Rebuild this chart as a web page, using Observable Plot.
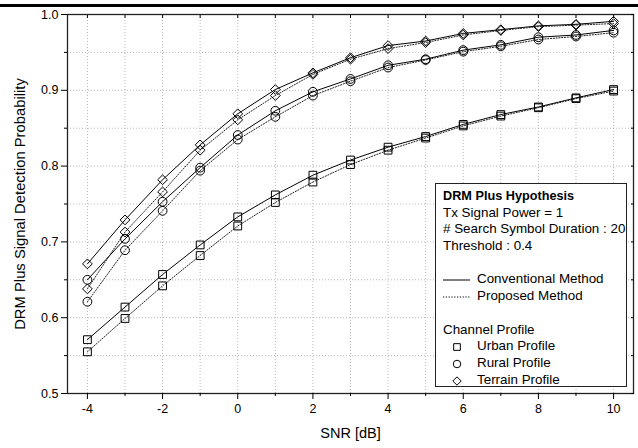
<!DOCTYPE html>
<html>
<head>
<meta charset="utf-8">
<script src="https://cdn.jsdelivr.net/npm/d3@7"></script>
<script src="https://cdn.jsdelivr.net/npm/@observablehq/plot@0.6"></script>
<style>
  body { margin: 0; background: white; }
  #wrap { position: relative; width: 638px; height: 448px; overflow: hidden; font-family: 'Liberation Sans', Arial, sans-serif; }
  #topbar { position: absolute; left: 0; top: 4px; width: 638px; height: 3px; background: #000; }
  #legend { position: absolute; left: 435px; top: 183px; width: 192px; height: 204px; border: 1.3px solid #222; background: white; box-sizing: border-box; padding: 4px 0 0 7px; font-size: 13.4px; line-height: 16.7px; color: #000; }
  #legend .row { position: relative; height: 16.7px; white-space: nowrap; }
  #legend .row svg { position: absolute; left: 0; top: 0; }
  #legend .row .lbl { position: absolute; left: 34px; top: 0; }
  #legend .row .plain { position: absolute; left: 0; top: 0; }
  #legend .row b { font-size: 12.7px; }
</style>
</head>
<body>
<div id="wrap"><div id="topbar"></div></div>
<script>
// ---- data ----
const snr = [-4, -3, -2, -1, 0, 1, 2, 3, 4, 5, 6, 7, 8, 9, 10];
const profiles = ["Urban Profile", "Rural Profile", "Terrain Profile"];
const methods = ["Conventional Method", "Proposed Method"];
const urbanConv   = [0.571, 0.614, 0.657, 0.696, 0.733, 0.762, 0.788, 0.808, 0.825, 0.839, 0.855, 0.868, 0.878, 0.890, 0.901];
const urbanProp   = [0.555, 0.599, 0.642, 0.682, 0.721, 0.752, 0.779, 0.802, 0.821, 0.837, 0.853, 0.866, 0.877, 0.889, 0.899];
const ruralConv   = [0.650, 0.704, 0.753, 0.798, 0.841, 0.873, 0.898, 0.915, 0.933, 0.941, 0.953, 0.960, 0.970, 0.973, 0.979];
const ruralProp   = [0.621, 0.689, 0.741, 0.794, 0.835, 0.865, 0.893, 0.912, 0.930, 0.940, 0.951, 0.958, 0.967, 0.971, 0.976];
const terrainConv = [0.671, 0.729, 0.782, 0.828, 0.869, 0.901, 0.923, 0.943, 0.959, 0.965, 0.975, 0.980, 0.985, 0.987, 0.991];
const terrainProp = [0.638, 0.713, 0.766, 0.821, 0.861, 0.893, 0.921, 0.941, 0.955, 0.963, 0.973, 0.979, 0.984, 0.986, 0.988];
const xMajorTicks = [-4, -2, 0, 2, 4, 6, 8, 10];
const xMinorTicks = [-3, -1, 1, 3, 5, 7, 9];
const yMajorTicks = [0.5, 0.6, 0.7, 0.8, 0.9, 1.0];
const yMinorTicks = [0.55, 0.65, 0.75, 0.85, 0.95];
const xLabel = "SNR [dB]";
const yLabel = "DRM Plus Signal Detection Probability";
const legendTitle = "DRM Plus Hypothesis";
const legendInfo = ["Tx Signal Power = 1", "# Search Symbol Duration : 20", "Threshold : 0.4"];
const legendProfileTitle = "Channel Profile";
const symbols = ["square", "circle", "diamond2"];

// ---- table ----
const seriesValues = [[urbanConv, urbanProp], [ruralConv, ruralProp], [terrainConv, terrainProp]];
const rows = [];
profiles.forEach((p, i) => methods.forEach((m, j) => snr.forEach((x, k) =>
  rows.push({snr: x, prob: seriesValues[i][j][k], profile: p, method: m}))));
const conv = rows.filter(d => d.method === methods[0]);
const prop = rows.filter(d => d.method === methods[1]);
const allX = xMajorTicks.concat(xMinorTicks).sort((a, b) => a - b);
const allY = yMajorTicks.concat(yMinorTicks).sort((a, b) => a - b);

const chart = Plot.plot({
  width: 638,
  height: 448,
  marginTop: 14,
  marginBottom: 55,
  marginLeft: 67,
  marginRight: 5,
  style: {fontFamily: "'Liberation Sans', Arial, sans-serif", fontSize: "12.5px", color: "#000", background: "transparent"},
  x: {domain: [-4.53, 10.53]},
  y: {domain: [0.5, 1.0]},
  symbol: {domain: profiles, range: symbols},
  marks: [
    Plot.gridX(allX, {stroke: "#b8b8b8", strokeOpacity: 1, strokeDasharray: "1,2"}),
    Plot.gridY(allY.filter(v => v > 0.5 && v < 1), {stroke: "#b8b8b8", strokeOpacity: 1, strokeDasharray: "1,2"}),
    Plot.line(conv, {x: "snr", y: "prob", z: "profile", stroke: "#000", strokeWidth: 1}),
    Plot.line(prop, {x: "snr", y: "prob", z: "profile", stroke: "#222", strokeWidth: 1, strokeDasharray: "1.2,1.6"}),
    Plot.dot(rows, {x: "snr", y: "prob", symbol: "profile", r: 4.4, stroke: "#000", strokeWidth: 1, fill: "none"}),
    Plot.frame({stroke: "#222", strokeWidth: 1.3}),
    Plot.axisX({ticks: xMajorTicks, tickSize: 6, tickPadding: 5, tickFormat: d => String(d), label: null, fontSize: 12.5}),
    Plot.axisX({ticks: xMinorTicks, tickSize: 3, tickFormat: () => "", label: null}),
    Plot.axisX({anchor: "top", ticks: allX, tickSize: -3, tickFormat: () => "", label: null}),
    Plot.axisY({ticks: yMajorTicks, tickSize: 6, tickPadding: 3, tickFormat: d3.format(".1f"), label: null, fontSize: 12.5}),
    Plot.axisY({ticks: yMinorTicks, tickSize: 3, tickFormat: () => "", label: null}),
    Plot.axisY({anchor: "right", ticks: allY, tickSize: -3, tickFormat: () => "", label: null}),
    Plot.text([xLabel], {text: d => d, frameAnchor: "bottom", dy: 44, fontSize: 14.5}),
    Plot.text([yLabel], {text: d => d, frameAnchor: "left", textAnchor: "middle", dx: -47, rotate: -90, fontSize: 14.8})
  ]
});
const wrap = document.getElementById("wrap");
chart.style.position = "absolute";
chart.style.left = "0";
chart.style.top = "0";
wrap.insertBefore(chart, wrap.firstChild);

// ---- legend ----
const legend = document.createElement("div");
legend.id = "legend";
function row(html) { const r = document.createElement("div"); r.className = "row"; r.innerHTML = html; legend.appendChild(r); return r; }
row(`<span class="plain"><b>${legendTitle}</b></span>`);
legendInfo.forEach(t => row(`<span class="plain">${t}</span>`));
row("");
const dashes = ["", "1.2,1.6"];
methods.forEach((m, j) => {
  row(`<svg width="30" height="17"><line x1="0" x2="27" y1="9" y2="9" stroke="#000" stroke-width="1" ${dashes[j] ? `stroke-dasharray="${dashes[j]}"` : ""}/></svg><span class="lbl">${m}</span>`);
});
row("");
row(`<span class="plain">${legendProfileTitle}</span>`);
profiles.forEach((p, i) => {
  const sym = d3.symbol(i === 0 ? d3.symbolSquare : i === 1 ? d3.symbolCircle : d3.symbolDiamond2, Math.PI * 4.2 * 4.2 * 0.8)();
  row(`<svg width="30" height="17"><path transform="translate(14,9)" d="${sym}" fill="none" stroke="#000" stroke-width="1"/></svg><span class="lbl">${p}</span>`);
});
wrap.appendChild(legend);
</script>
</body>
</html>
